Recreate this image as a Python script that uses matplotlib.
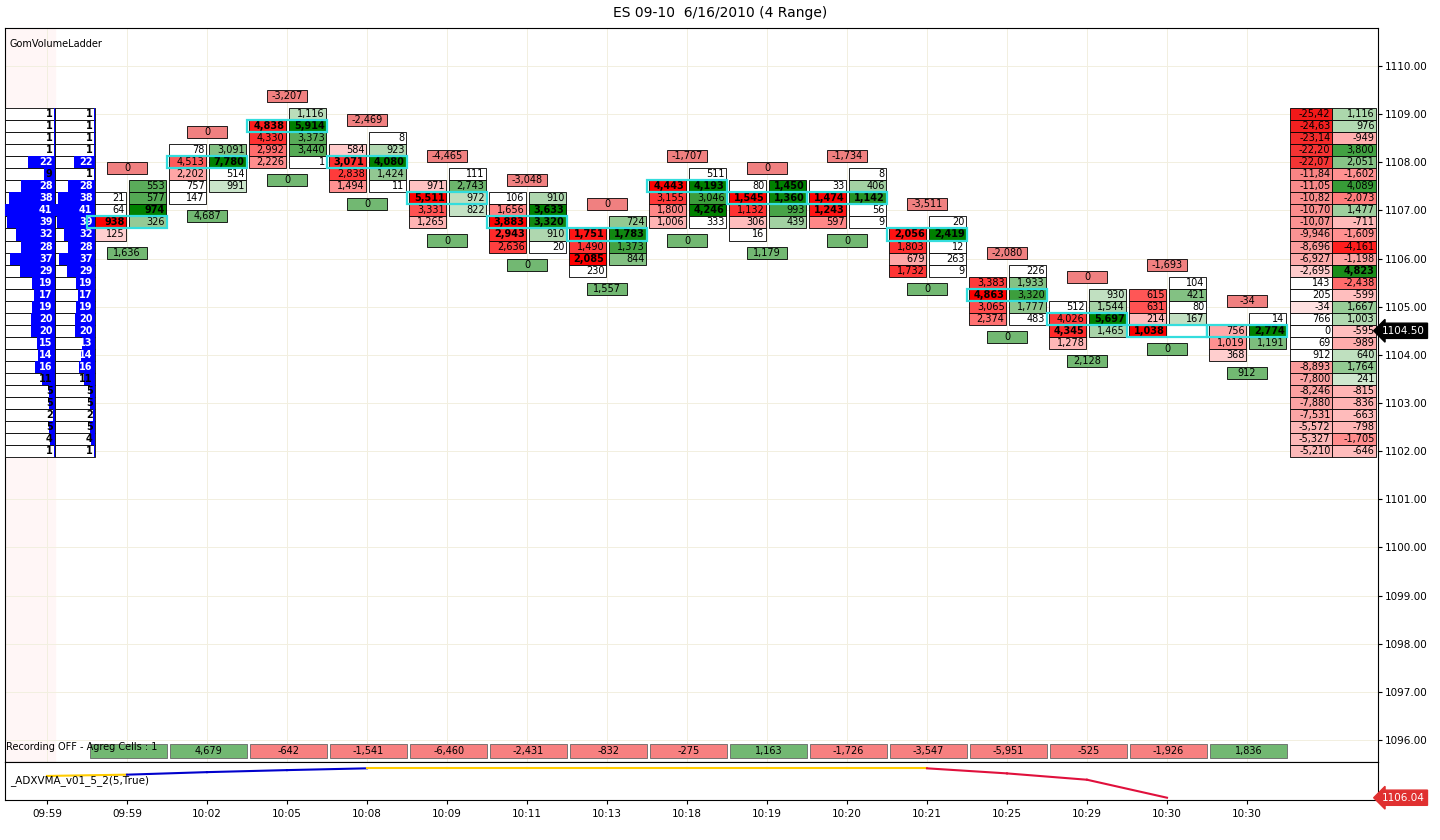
import matplotlib
matplotlib.use("Agg")
import matplotlib.pyplot as plt
from matplotlib.patches import Rectangle
import numpy as np

title = "ES 09-10  6/16/2010 (4 Range)"
xlabels = ["09:59","09:59","10:02","10:05","10:08","10:09","10:11","10:13","10:18","10:19","10:20","10:21","10:25","10:29","10:30","10:30"]

ask_top = [1107.5,1108.25,1109.0,1108.5,1107.75,1107.25,1106.75,1107.75,1107.5,1107.75,1106.75,1105.75,1105.25,1105.5,1104.75]
bid_top = [1107.25,1108.25,1108.75,1108.25,1107.5,1107.25,1106.5,1107.5,1107.5,1107.5,1106.5,1105.5,1105.0,1105.25,1104.5]
bids = [[21,64,938,125],[78,4513,2202,757,147],[4838,4330,2992,2226],[584,3071,2838,1494],
        [971,5511,3331,1265],[106,1656,3883,2943,2636],[1751,1490,2085,230],[4443,3155,1800,1006],
        [80,1545,1132,306,16],[33,1474,1243,597],[2056,1803,679,1732],[3383,4863,3065,2374],
        [512,4026,4345,1278],[615,631,214,1038],[756,1019,368]]
asks = [[553,577,974,326],[3091,7780,514,991],[1116,5914,3373,3440,1],[8,923,4080,1424,11],
        [111,2743,972,822],[910,3633,3320,910,20],[724,1783,1373,844],[511,4193,3046,4246,333],
        [1450,1360,993,439],[8,406,1142,56,9],[20,2419,12,263,9],[226,1933,3320,1777,483],
        [930,1544,5697,1465],[104,421,80,167],[14,2774,1191]]
top_delta = [0,0,-3207,-2469,-4465,-3048,0,-1707,0,-1734,-3511,-2080,0,-1693,-34]
bar_volume = [1636,4687,0,0,0,0,1557,0,1179,0,0,0,2128,0,912]
bottom_delta = [236,4679,-642,-1541,-6460,-2431,-832,-275,1163,-1726,-3547,-5951,-525,-1926,1836]

ladder_top = 1109.0
ladder_vals = [1,1,1,1,22,9,28,38,41,39,32,28,37,29,19,17,19,20,20,15,14,16,11,5,5,2,5,4,1]
ladder_vals2 = [1,1,1,1,22,1,28,38,41,39,32,28,37,29,19,17,19,20,20,13,14,16,11,5,5,2,5,4,1]
rl_left = ["-25,42","-24,63","-23,14","-22,20","-22,07","-11,84","-11,05","-10,82","-10,70","-10,07","-9,946","-8,696","-6,927","-2,695","143","205","-34","766","0","69","912","-8,893","-7,800","-8,246","-7,880","-7,531","-5,572","-5,327","-5,210"]
rl_right = [1116,976,-949,3800,2051,-1602,4089,-2073,1477,-711,-1609,-4161,-1198,4823,-2438,-599,1667,1003,-595,-989,640,1764,241,-815,-836,-663,-798,-1705,-646]

adx = [1106.9,1106.95,1107.05,1107.13,1107.2,1107.2,1107.2,1107.2,1107.2,1107.2,1107.2,1107.2,1107.0,1106.75,1106.04]
adx_col = ["#ffcc00","#0000cc","#0000cc","#0000cc","#ffcc00","#ffcc00","#ffcc00","#ffcc00","#ffcc00","#ffcc00","#ffcc00","#e0103c","#e0103c","#e0103c"]

W, H = 1440, 840
fig = plt.figure(figsize=(14.4, 8.4), dpi=100)
fig.patch.set_facecolor("white")
ax = fig.add_axes([5/W, (H-762)/H, 1373/W, 734/H])
x0 = (5-47)/80; x1 = (1378-47)/80
xm = (55-47)/80
ax.set_xlim(x0, x1)
ax.set_ylim(1110-(762-66)/48.14, 1110+(66-28)/48.14)
ax.yaxis.tick_right()
ax.set_yticks(np.arange(1096, 1111))
ax.set_yticklabels([f"{v:.2f}" for v in range(1096, 1111)], fontsize=7.5)
ax.set_xticks([])
ax.axvspan(x0, xm, color="#fff6f6", zorder=0)
for i in range(16):
    ax.axvline(i, color="#f2efe0", lw=0.7, zorder=0)
for v in range(1096, 1111):
    ax.axhline(v, color="#f2efe0", lw=0.7, zorder=0)
for s in ax.spines.values():
    s.set_color("black"); s.set_linewidth(0.8)
ax.tick_params(axis="y", length=3, pad=2)

def lerp(c1, c2, t):
    return tuple(a+(b-a)*t for a, b in zip(c1, c2))

def fill(v, m, red):
    t = v/m if m else 0
    if t < 0.12:
        return (1, 1, 1)
    if red:
        return lerp((1, 0.82, 0.82), (1, 0, 0), min(1, (t-0.12)/0.8))
    return lerp((0.8, 0.9, 0.8), (0, 0.5, 0), min(1, (t-0.12)/0.8))

def cell(xl, w, p, txt, fc, ec="black", lw=0.6, bold=False, fs=7, ha="right"):
    ax.add_patch(Rectangle((xl, p-0.125), w, 0.25, fc=fc, ec=ec, lw=lw, zorder=3))
    tx = xl+w-0.02 if ha == "right" else xl+w/2
    ax.text(tx, p, txt, ha=ha, va="center", fontsize=fs, zorder=4,
            fontweight="bold" if bold else "normal")

for k in range(15):
    i = k+1
    m = max(max(bids[k]), max(asks[k]))
    for j, v in enumerate(bids[k]):
        p = bid_top[k]-0.25*j
        cell(i-0.47, 0.46, p, f"{v:,}", fill(v, m, True), bold=v/m > 0.75)
    for j, v in enumerate(asks[k]):
        p = ask_top[k]-0.25*j
        cell(i+0.03, 0.46, p, f"{v:,}", fill(v, m, False), bold=v/m > 0.75)
    tot = {}
    for j, v in enumerate(bids[k]):
        tot[bid_top[k]-0.25*j] = tot.get(bid_top[k]-0.25*j, 0)+v
    for j, v in enumerate(asks[k]):
        tot[ask_top[k]-0.25*j] = tot.get(ask_top[k]-0.25*j, 0)+v
    pp = max(tot, key=tot.get)
    ax.add_patch(Rectangle((i-0.5, pp-0.125), 1.0, 0.25, fc="none", ec="#33dddd", lw=1.6, zorder=5))
    ptop = ask_top[k]+0.375
    cell(i-0.25, 0.5, ptop, f"{top_delta[k]:,}", "#f08080", ha="center")
    pbot = bid_top[k]-0.25*(len(bids[k])-1)-0.375
    cell(i-0.25, 0.5, pbot, f"{bar_volume[k]:,}", "#72b872", ha="center")
    v = bottom_delta[k]
    yb = 1110-(751-66)/48.14
    ax.add_patch(Rectangle((i-0.46, yb-0.14), 0.96, 0.28, fc="#72b872" if v > 0 else "#f78080",
                           ec="#666666", lw=0.6, zorder=3))
    if k > 0:
        ax.text(i+0.02, yb, f"{v:,}", ha="center", va="center", fontsize=7, zorder=4)

# left ladder
mx = max(ladder_vals)
for j, (a, b) in enumerate(zip(ladder_vals, ladder_vals2)):
    p = ladder_top-0.25*j
    for xl, w, v in ((x0, xm-x0, a), (xm, 0.6-xm, b)):
        ax.add_patch(Rectangle((xl, p-0.125), w, 0.25, fc="white", ec="black", lw=0.6, zorder=3))
        bw = w*v/mx
        ax.add_patch(Rectangle((xl+w-bw, p-0.125), bw, 0.25, fc="#0000ff", ec="none", zorder=3.5))
        ax.text(xl+w-0.03, p, str(v), ha="right", va="center", fontsize=7, fontweight="bold", zorder=4,
                color="white" if v > 12 else "black")

# right ladder
rx0 = (1290-47)/80; rx1 = (1332-47)/80; rx2 = (1376-47)/80
for j, (s, v) in enumerate(zip(rl_left, rl_right)):
    p = ladder_top-0.25*j
    neg = s.startswith("-")
    mag = abs(int(s.replace(",", "")))
    if "," in s and len(s.split(",")[1]) == 2:
        mag *= 10
    t = min(1, mag/25420)
    fc = lerp((1, 0.88, 0.88), (0.95, 0.1, 0.1), t) if neg else (1, 1, 1)
    cell(rx0, rx1-rx0, p, s, fc)
    tv = min(1, abs(v)/4823)
    fc2 = lerp((1, 0.85, 0.85), (1, 0, 0), tv) if v < 0 else lerp((0.85, 0.93, 0.85), (0.1, 0.55, 0.1), tv)
    cell(rx1, rx2-rx1, p, f"{v:,}", fc2, bold=abs(v) == 4823)

ax.text(x1+0.05, 1104.5, "1104.50", fontsize=7.5, color="white",
        va="center", ha="left", bbox=dict(fc="black", ec="black", boxstyle="larrow,pad=0.25"), clip_on=False)

ax.text(0.003, 0.985, "GomVolumeLadder", transform=ax.transAxes, fontsize=7, va="top")
ax.text(x0+0.01, 1110-(747-66)/48.14, "Recording OFF - Agreg Cells : 1", fontsize=7, va="center",
        ha="left", zorder=6)
fig.text(720/W, 1-13/H, title, ha="center", va="center", fontsize=10)

# lower panel
ax2 = fig.add_axes([5/W, (H-800)/H, 1373/W, 38/H])
ax2.set_xlim(x0, x1)
ax2.set_ylim(1105.95, 1107.45)
xs = np.arange(len(adx))
for k in range(len(adx)-1):
    ax2.plot([xs[k], xs[k+1]], [adx[k], adx[k+1]], color=adx_col[k], lw=1.5)
ax2.set_xticks(np.arange(16))
ax2.set_xticklabels(xlabels, fontsize=7.5)
ax2.tick_params(axis="x", length=3)
ax2.set_yticks([])
for s in ax2.spines.values():
    s.set_linewidth(0.8)
ax2.text(0.004, 0.5, "_ADXVMA_v01_5_2(5,True)", transform=ax2.transAxes, fontsize=7.5, va="center")
ax2.text(x1+0.05, 1106.04, "1106.04", fontsize=7.5, color="white", va="center", ha="left",
         bbox=dict(fc="#e03030", ec="#e03030", boxstyle="larrow,pad=0.25"), clip_on=False)

fig.savefig("out.png", dpi=100)
